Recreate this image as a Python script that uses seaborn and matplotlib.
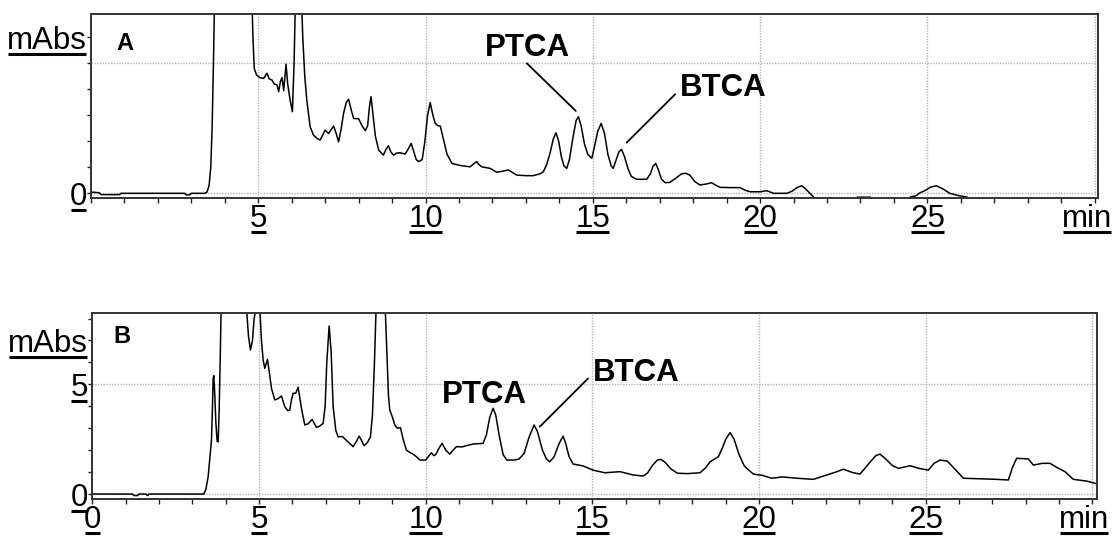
import numpy as np
import pandas as pd
import matplotlib
matplotlib.use("Agg")
import matplotlib.pyplot as plt
import seaborn as sns
from matplotlib.lines import Line2D
from matplotlib.transforms import IdentityTransform, ScaledTranslation

# ---------------- data ----------------
time_a = [0.00, 0.25, 0.30, 0.85, 0.90, 2.80, 2.85, 2.95, 3.00, 3.40, 3.47, 3.53, 3.58, 3.62, 3.66, 3.70,
          3.90, 4.50, 4.80, 4.84, 4.88, 4.95, 5.05, 5.16, 5.26, 5.33, 5.41, 5.48, 5.56, 5.61, 5.66, 5.71,
          5.76, 5.83, 5.88, 5.95, 6.02, 6.07, 6.12, 6.20, 6.28, 6.33, 6.39, 6.45, 6.55, 6.65, 6.75, 6.85,
          6.93, 7.00, 7.10, 7.25, 7.33, 7.40, 7.48, 7.55, 7.63, 7.70, 7.78, 7.85, 8.00, 8.10, 8.20, 8.27,
          8.32, 8.37, 8.43, 8.50, 8.60, 8.74, 8.82, 8.89, 8.96, 9.04, 9.14, 9.24, 9.39, 9.48, 9.57, 9.65,
          9.72, 9.79, 9.90, 9.98, 10.06, 10.14, 10.22, 10.29, 10.37, 10.44, 10.54, 10.64, 10.79, 11.04,
          11.33, 11.45, 11.53, 11.60, 11.68, 11.93, 12.13, 12.30, 12.48, 12.60, 12.73, 13.00, 13.22, 13.42,
          13.52, 13.62, 13.72, 13.82, 13.90, 13.98, 14.06, 14.14, 14.22, 14.30, 14.40, 14.50, 14.57, 14.65,
          14.75, 14.85, 14.97, 15.05, 15.15, 15.25, 15.35, 15.45, 15.55, 15.61, 15.70, 15.78, 15.86, 15.95,
          16.05, 16.15, 16.31, 16.61, 16.72, 16.80, 16.88, 16.96, 17.05, 17.16, 17.30, 17.50, 17.65, 17.78,
          17.90, 18.05, 18.20, 18.40, 18.55, 18.65, 18.80, 19.10, 19.40, 19.55, 19.70, 20.00, 20.20, 20.30,
          20.40, 20.80, 20.95, 21.10, 21.24, 21.35, 21.49, 21.59, 21.70, 22.85, 22.90, 23.30, 23.35, 24.45,
          24.50, 24.65, 24.78, 24.95, 25.10, 25.27, 25.45, 25.67, 25.90, 26.20, 26.30, 30.10]
abs_a = [0.05, 0.02, -0.05, -0.05, 0.00, 0.00, -0.06, -0.06, 0.00, 0.00, 0.05, 0.30, 1.00, 2.50, 5.00, 8.00,
         12.0, 12.0, 8.00, 6.00, 4.80, 4.55, 4.45, 4.42, 4.62, 4.40, 4.36, 4.20, 4.17, 3.91, 4.30, 4.45,
         3.95, 4.97, 4.20, 3.60, 3.14, 5.00, 8.00, 12.0, 8.00, 6.00, 4.50, 3.59, 2.56, 2.24, 2.12, 2.05,
         2.25, 2.43, 2.30, 2.59, 2.30, 1.98, 2.50, 3.08, 3.50, 3.62, 3.20, 2.88, 2.87, 2.60, 2.41, 2.60,
         3.30, 3.72, 3.00, 2.20, 1.66, 1.47, 1.70, 1.83, 1.60, 1.47, 1.55, 1.56, 1.51, 1.70, 1.92, 1.60,
         1.30, 1.22, 1.30, 2.00, 3.00, 3.49, 3.00, 2.69, 2.60, 2.59, 2.05, 1.51, 1.15, 1.07,
         1.02, 1.15, 1.22, 1.10, 1.02, 0.96, 0.81, 0.85, 0.90, 0.80, 0.70, 0.68, 0.68, 0.75,
         0.83, 1.10, 1.54, 2.10, 2.33, 2.00, 1.40, 1.05, 0.96, 1.30, 2.10, 2.80, 2.95, 2.60,
         1.90, 1.50, 1.35, 1.80, 2.40, 2.69, 2.30, 1.50, 1.05, 0.96, 1.30, 1.60, 1.69, 1.40,
         0.95, 0.65, 0.54, 0.54, 0.75, 1.05, 1.15, 0.90, 0.55, 0.41, 0.42, 0.60, 0.75, 0.77,
         0.70, 0.45, 0.32, 0.36, 0.41, 0.33, 0.23, 0.22, 0.22, 0.12, 0.06, 0.06, 0.10, 0.05,
         0.00, 0.00, 0.08, 0.22, 0.29, 0.18, 0.00, -0.13, -0.35, -0.35, -0.15, -0.15, -0.35, -0.35,
         -0.13, -0.10, 0.02, 0.12, 0.24, 0.29, 0.18, 0.00, -0.08, -0.15, -0.35, -0.35]

time_b = [0.00, 0.30, 1.20, 1.25, 1.35, 1.40, 1.60, 1.65, 1.70, 3.34, 3.40, 3.47, 3.52, 3.57, 3.60, 3.62,
          3.64, 3.67, 3.70, 3.74, 3.77, 3.80, 3.83, 3.86, 4.00, 4.50, 4.62, 4.68, 4.74, 4.80, 4.85, 4.92,
          4.97, 5.02, 5.07, 5.12, 5.17, 5.25, 5.31, 5.37, 5.47, 5.57, 5.67, 5.77, 5.86, 5.92, 5.97, 6.02,
          6.10, 6.17, 6.27, 6.37, 6.47, 6.59, 6.72, 6.82, 6.92, 6.98, 7.03, 7.10, 7.16, 7.22, 7.30, 7.37,
          7.50, 7.65, 7.82, 7.92, 8.00, 8.07, 8.15, 8.25, 8.34, 8.40, 8.46, 8.52, 8.65, 8.77, 8.83, 8.88,
          8.92, 9.00, 9.07, 9.15, 9.24, 9.32, 9.42, 9.52, 9.62, 9.72, 9.82, 10.00, 10.10, 10.17, 10.24,
          10.30, 10.40, 10.49, 10.60, 10.72, 10.82, 10.92, 11.10, 11.20, 11.42, 11.60, 11.72, 11.82, 11.92,
          12.02, 12.10, 12.20, 12.32, 12.43, 12.67, 12.80, 12.95, 13.10, 13.25, 13.35, 13.50, 13.62, 13.72,
          13.85, 14.00, 14.12, 14.20, 14.30, 14.42, 14.72, 15.02, 15.37, 15.83, 16.22, 16.52, 16.65, 16.80,
          16.95, 17.05, 17.18, 17.35, 17.55, 17.85, 18.23, 18.40, 18.53, 18.78, 18.90, 19.00, 19.13, 19.25,
          19.40, 19.55, 19.63, 19.83, 20.10, 20.38, 20.70, 21.13, 21.63, 22.03, 22.30, 22.53, 22.80, 23.03,
          23.30, 23.50, 23.63, 23.80, 24.00, 24.18, 24.53, 24.80, 25.08, 25.25, 25.43, 25.65, 25.90, 26.13,
          27.13, 27.48, 27.60, 27.73, 28.08, 28.23, 28.50, 28.73, 28.95, 29.18, 29.43, 29.83, 30.08, 30.14]
abs_b = [0.00, 0.00, 0.00, -0.07, -0.07, 0.00, 0.00, -0.07, 0.00, 0.00, 0.20, 0.79, 1.60, 2.46, 4.00, 5.27,
         5.40, 4.50, 3.30, 2.40, 2.38, 3.80, 6.00, 8.50, 12.0, 12.0, 8.50, 7.20, 6.57, 7.00, 8.00, 8.60,
         10.0, 8.50, 7.00, 6.11, 5.73, 6.14, 5.50, 4.82, 4.29, 4.35, 4.47, 3.98, 3.80, 3.83, 4.30, 4.59,
         4.60, 4.87, 3.90, 3.15, 3.20, 3.40, 3.04, 3.10, 3.22, 4.00, 6.00, 7.66, 6.50, 4.00, 2.90, 2.61,
         2.62, 2.40, 2.16, 2.40, 2.64, 2.45, 2.20, 2.35, 2.61, 3.60, 6.00, 9.00, 11.0, 9.00, 6.50, 4.50,
         3.83, 3.50, 3.15, 3.00, 3.03, 2.50, 2.00, 1.90, 1.82, 1.70, 1.55, 1.55, 1.75, 1.88, 1.75,
         1.80, 2.10, 2.31, 2.00, 1.82, 2.00, 2.16, 2.15, 2.20, 2.28, 2.30, 2.31, 2.70, 3.50,
         3.91, 3.60, 2.70, 1.80, 1.55, 1.55, 1.60, 1.85, 2.60, 3.15, 2.85, 2.00, 1.60, 1.47,
         1.70, 2.30, 2.64, 2.30, 1.70, 1.37, 1.28, 1.09, 0.97, 1.02, 0.87, 0.82, 0.95, 1.30,
         1.55, 1.58, 1.45, 1.15, 0.95, 0.93, 0.97, 1.20, 1.47, 1.70, 2.10, 2.50, 2.80, 2.50,
         1.80, 1.30, 1.17, 0.91, 0.85, 0.72, 0.78, 0.72, 0.67, 0.87, 1.00, 1.13, 0.98, 0.91,
         1.40, 1.75, 1.82, 1.60, 1.30, 1.17, 1.29, 1.17, 1.09, 1.40, 1.55, 1.50, 1.10, 0.72,
         0.67, 0.64, 1.20, 1.63, 1.60, 1.32, 1.40, 1.40, 1.20, 1.02, 0.67, 0.59, 0.49, 0.46]

x_major = list(range(0, 31))
x_grid = [5, 10, 15, 20, 25, 30]
x_labels_a = ["" if v % 5 else str(v) for v in x_major]
x_labels_a[0] = ""
x_labels_a[-1] = "min"
x_labels_b = ["" if v % 5 else str(v) for v in x_major]
x_labels_b[-1] = "min"

y_major_a = list(range(0, 7))
y_labels_a = ["0", "", "", "", "", "", "mAbs"]
y_major_b = list(range(0, 9))
y_labels_b = ["0", "", "", "", "", "5", "", "mAbs", ""]
y_grid = [0, 5]

# ---------------- style ----------------
sns.set_style("white")
plt.rcParams["font.family"] = ["Liberation Sans", "DejaVu Sans"]
plt.rcParams["text.color"] = "black"
plt.rcParams["xtick.color"] = "black"
plt.rcParams["ytick.color"] = "black"
plt.rcParams["xtick.labelcolor"] = "black"
plt.rcParams["ytick.labelcolor"] = "black"

W, H, DPI = 1114, 536, 100
fig = plt.figure(figsize=(W / DPI, H / DPI), dpi=DPI)

ax_a = fig.add_axes([91 / W, 1 - 198 / H, 1007 / W, 184 / H])
ax_b = fig.add_axes([91.5 / W, 1 - 499.3 / H, 1005.5 / W, 186 / H])

df_a = pd.DataFrame({"t": time_a, "a": abs_a})
df_b = pd.DataFrame({"t": time_b, "a": abs_b})
sns.lineplot(data=df_a, x="t", y="a", ax=ax_a, color="black", lw=1.1,
             estimator=None, sort=False)
sns.lineplot(data=df_b, x="t", y="a", ax=ax_b, color="black", lw=1.1,
             estimator=None, sort=False)

TICK_FS = 22.5


def style_axes(ax, xlim, ylim, xlabels, yticks, ylabels):
    ax.set_xlim(*xlim)
    ax.set_ylim(*ylim)
    ax.set_xlabel("")
    ax.set_ylabel("")
    ax.xaxis.remove_overlapping_locs = False
    ax.yaxis.remove_overlapping_locs = False
    ax.set_xticks(x_major)
    ax.set_xticklabels(xlabels, fontsize=TICK_FS, color="black")
    ax.set_yticks(yticks)
    ax.set_yticklabels(ylabels, fontsize=TICK_FS, color="black")
    ax.set_xticks(x_grid, minor=True)
    ax.set_yticks(y_grid, minor=True)
    ax.tick_params(which="major", axis="x", direction="out", length=3.5, width=1.0,
                   color="#222222", pad=0.5, bottom=True)
    ax.tick_params(which="major", axis="y", direction="out", length=3.2, width=1.0,
                   color="#222222", pad=-0.5, left=True)
    ax.tick_params(which="minor", length=0, labelbottom=False, labelleft=False)
    ax.grid(False, which="major")
    ax.grid(True, which="minor", color="#b4b4b4", linestyle=(0, (1, 1)), linewidth=1.0)
    ax.set_axisbelow(True)
    for s in ax.spines.values():
        s.set_visible(True)
        s.set_color("#333333")
        s.set_linewidth(1.4)


style_axes(ax_a, (0, 30.1), (-0.18, 6.9), x_labels_a, y_major_a, y_labels_a)
style_axes(ax_b, (-0.03, 30.14), (-0.24, 8.24), x_labels_b, y_major_b, y_labels_b)

# panel letters
ax_a.text(1.0, 5.78, "A", fontsize=17, fontweight="bold", ha="center", va="center", color="black")
ax_b.text(0.87, 7.17, "B", fontsize=17, fontweight="bold", ha="center", va="center", color="black")

# peak annotations
ANN_FS = 22.5
ax_a.text(13.05, 5.61, "PTCA", fontsize=ANN_FS, fontweight="bold", ha="center", va="center", color="black")
ax_a.plot([13.03, 14.49], [5.0, 3.17], color="black", lw=1.3)
ax_a.text(18.9, 4.07, "BTCA", fontsize=ANN_FS, fontweight="bold", ha="center", va="center", color="black")
ax_a.plot([16.01, 17.46], [1.95, 3.81], color="black", lw=1.3)

ax_b.text(11.75, 4.51, "PTCA", fontsize=ANN_FS, fontweight="bold", ha="center", va="center", color="black")
ax_b.text(16.33, 5.5, "BTCA", fontsize=ANN_FS, fontweight="bold", ha="center", va="center", color="black")
ax_b.plot([13.42, 14.87], [3.07, 5.27], color="black", lw=1.3)

# shift the "min" labels slightly left so they stay inside the figure
for ax in (ax_a, ax_b):
    lbl = ax.get_xticklabels()[-1]
    lbl.set_transform(lbl.get_transform() + ScaledTranslation(-8 / DPI, 0, fig.dpi_scale_trans))

# underline every tick label (style of the original instrument software)
fig.canvas.draw()
renderer = fig.canvas.get_renderer()
for ax in (ax_a, ax_b):
    for lbl in list(ax.get_xticklabels()) + list(ax.get_yticklabels()):
        if not lbl.get_text() or not lbl.get_visible():
            continue
        bb = lbl.get_window_extent(renderer)
        y = bb.y0 + 2.0
        fig.add_artist(Line2D([bb.x0 + 1, bb.x1 - 1], [y, y], transform=IdentityTransform(),
                              color="black", lw=2.2, solid_capstyle="butt"))

fig.savefig("out.png", dpi=DPI)
